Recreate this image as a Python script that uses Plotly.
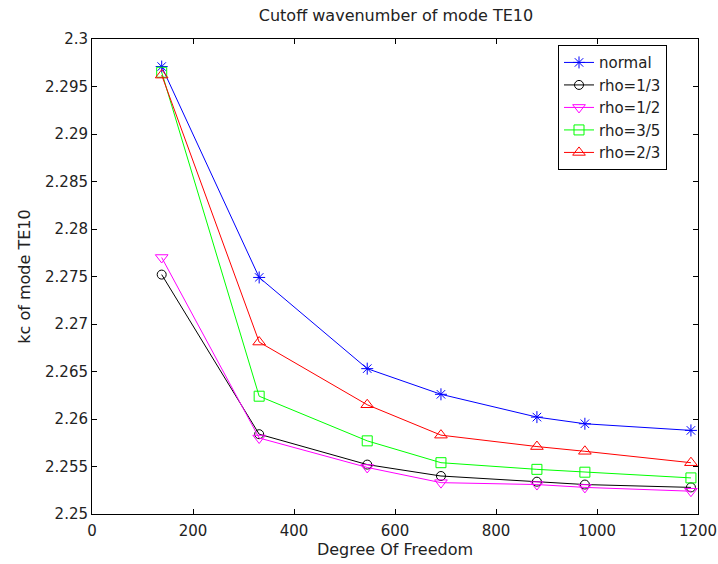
import plotly.graph_objects as go

dof = [138, 331, 545, 691, 881, 976, 1186]
normal = [2.2971, 2.2749, 2.2653, 2.2626, 2.2602, 2.2595, 2.2588]
rho_1_3 = [2.2752, 2.2584, 2.2552, 2.2540, 2.2534, 2.2531, 2.2528]
rho_1_2 = [2.2770, 2.2580, 2.2549, 2.2533, 2.2531, 2.2528, 2.2524]
rho_3_5 = [2.2965, 2.2624, 2.2577, 2.2554, 2.2547, 2.2544, 2.2538]
rho_2_3 = [2.2962, 2.2681, 2.2615, 2.2583, 2.2571, 2.2566, 2.2554]

series = [
    ("normal", normal, "#0000FF", "asterisk-open", 10),
    ("rho=1/3", rho_1_3, "#000000", "circle-open", 9),
    ("rho=1/2", rho_1_2, "#FF00FF", "triangle-down-open", 11),
    ("rho=3/5", rho_3_5, "#00FF00", "square-open", 10),
    ("rho=2/3", rho_2_3, "#FF0000", "triangle-up-open", 11),
]

x_ticks = [0, 200, 400, 600, 800, 1000, 1200]
y_ticks = [2.25, 2.255, 2.26, 2.265, 2.27, 2.275, 2.28, 2.285, 2.29, 2.295, 2.3]
y_labels = ["2.25", "2.255", "2.26", "2.265", "2.27", "2.275", "2.28", "2.285", "2.29", "2.295", "2.3"]

fig = go.Figure()
for name, vals, color, sym, size in series:
    fig.add_trace(go.Scatter(
        x=dof, y=vals, name=name, mode="lines+markers",
        line=dict(color=color, width=1),
        marker=dict(symbol=sym, size=size, color=color, line=dict(color=color, width=1)),
    ))

font = "DejaVu Sans, sans-serif"
txt = "#222222"
fig.update_layout(
    width=718, height=564,
    margin=dict(l=92, r=20, t=39, b=50, autoexpand=False),
    paper_bgcolor="white", plot_bgcolor="white",
    font=dict(family=font, size=15, color=txt),
    title=dict(text="Cutoff wavenumber of mode TE10", x=396 / 718, xanchor="center",
               y=1 - 15 / 564, yanchor="middle", font=dict(size=16, family=font, color=txt)),
    showlegend=True,
    legend=dict(x=0.769, y=0.987, xanchor="left", yanchor="top",
                bordercolor="black", borderwidth=1, bgcolor="white",
                font=dict(size=15, family=font, color=txt),
                tracegroupgap=0, itemsizing="trace",
                entrywidth=118, entrywidthmode="pixels"),
)
fig.update_xaxes(
    range=[0, 1200], tickvals=x_ticks, ticktext=[str(v) for v in x_ticks],
    showline=True, linecolor="black", linewidth=1, mirror="ticks",
    ticks="inside", ticklen=5, tickcolor="black",
    showgrid=False, zeroline=False, automargin=False,
    ticklabelstandoff=3,
    tickfont=dict(size=15, family=font, color=txt),
    title=dict(text="Degree Of Freedom", standoff=4, font=dict(size=16, family=font, color=txt)),
)
fig.update_yaxes(
    range=[2.25, 2.3], tickvals=y_ticks, ticktext=y_labels,
    showline=True, linecolor="black", linewidth=1, mirror="ticks",
    ticks="inside", ticklen=5, tickcolor="black",
    showgrid=False, zeroline=False, automargin=False,
    tickfont=dict(size=15, family=font, color=txt),
    title=dict(text="kc of mode TE10", standoff=10, font=dict(size=16, family=font, color=txt)),
)

fig.write_html("out.html")
